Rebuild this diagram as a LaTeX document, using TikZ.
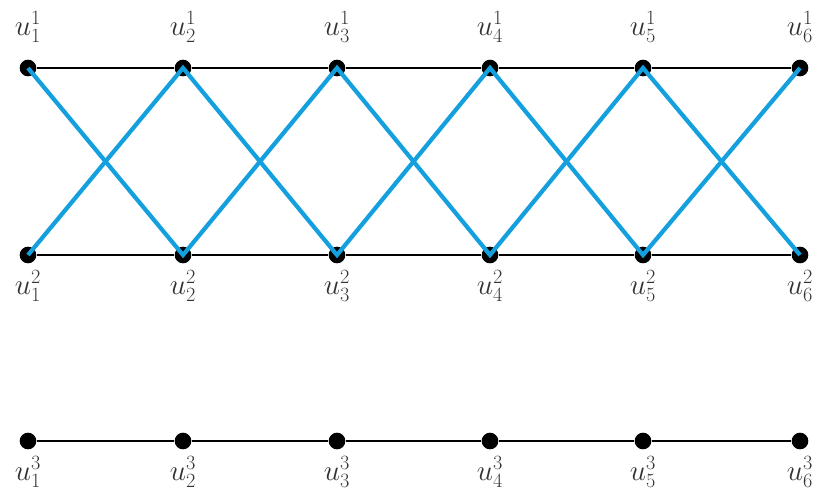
\documentclass[tikz,border=0pt]{standalone}
\usepackage{amsmath}
\usepackage{xcolor}
\definecolor{zigblue}{RGB}{20,160,222}

\begin{document}
\begin{tikzpicture}[x=0.03cm, y=-0.03cm,
    dot/.style={circle, fill=black, inner sep=0pt, minimum size=0.5cm},
    lbl/.style={inner sep=0pt, font=\fontsize{25}{30}\selectfont, text=black!80},
    rung/.style={draw=black, line width=1.2pt},
    zig/.style={draw=zigblue, line width=3.6pt}]
    \useasboundingbox (0,0) rectangle (818,500);
    % vertices of the three rows
    \foreach \i/\x in {1/28,2/183,3/337,4/490,5/643,6/800} {
        \node[dot, label={[lbl, label distance=0.5cm]above:$u^1_{\i}$}] (a\i) at (\x,68) {};
        \node[dot, label={[lbl, label distance=0.2cm]below:$u^2_{\i}$}] (b\i) at (\x,255) {};
        \node[dot, label={[lbl, label distance=0.2cm]below:$u^3_{\i}$}] (c\i) at (\x,441) {};
    }
    % horizontal edges
    \foreach \i/\j in {1/2,2/3,3/4,4/5,5/6} {
        \draw[rung] (a\i) -- (a\j);
        \draw[rung] (b\i) -- (b\j);
        \draw[rung] (c\i) -- (c\j);
    }
    % crossing edges
    \draw[zig] (a1.center) -- (b2.center) -- (a3.center) -- (b4.center) -- (a5.center) -- (b6.center);
    \draw[zig] (b1.center) -- (a2.center) -- (b3.center) -- (a4.center) -- (b5.center) -- (a6.center);
\end{tikzpicture}
\end{document}
